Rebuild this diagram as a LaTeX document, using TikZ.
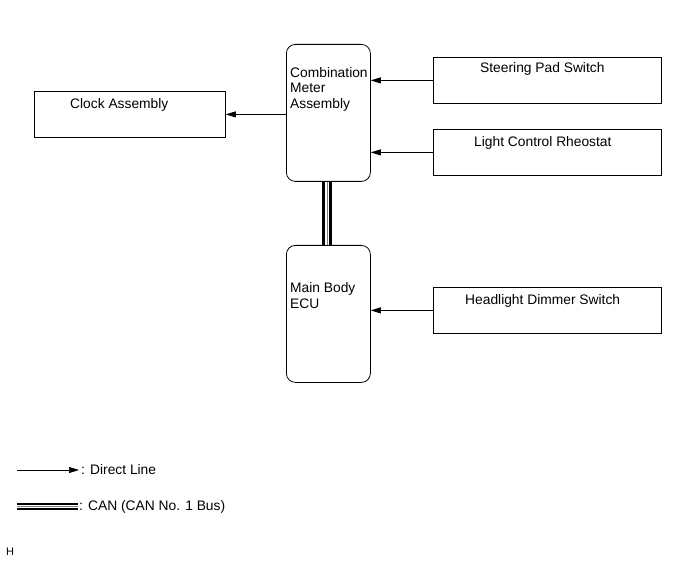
\documentclass[tikz,border=0pt]{standalone}
\usepackage{fontspec}
\setmainfont{Liberation Sans}
\usetikzlibrary{arrows.meta, positioning, calc}

\begin{document}
\begin{tikzpicture}[
    x=1pt, y=-1pt,
    ecu/.style={draw, rectangle, rounded corners=9pt, line width=0.8pt, minimum width=84pt, minimum height=137pt, anchor=north west, inner sep=0pt},
    unit/.style={draw, rectangle, line width=0.8pt, minimum width=228pt, minimum height=46pt, anchor=north west, inner sep=0pt},
    lbl/.style={anchor=base west, inner sep=0pt, font=\fontsize{13.8}{15.5}\selectfont, align=left},
    arrow/.style={-{Triangle[length=10pt, width=6pt]}, line width=0.7pt},
    canbus/.style={line width=2.6pt, double=white, double distance=#1},
    cancore/.style={draw=gray, line width=0.7pt}
]
    \useasboundingbox (0,0) rectangle (691,564);

    % Nodes
    \node[ecu] (meter) at (286,44) {};
    \node[ecu] (body) at (286,245) {};
    \node[unit, minimum width=191pt] (clock) at (34,91) {};
    \node[unit] (steer) at (433,57) {};
    \node[unit] (rheo) at (433,129) {};
    \node[unit] (dimmer) at (433,287) {};

    % labels (base = last line)
    \node[lbl] (meterlbl) at (290,108.5) {Combination\\Meter\\Assembly};
    \node[lbl] (bodylbl) at (290,308.5) {Main Body\\ECU};
    \node[lbl] (clocklbl) at (70,109) {Clock Assembly};
    \node[lbl] (steerlbl) at (480,73) {Steering Pad Switch};
    \node[lbl] (rheolbl) at (474,147) {Light Control Rheostat};
    \node[lbl] (dimmerlbl) at (465,304) {Headlight Dimmer Switch};

    % Arrows
    \draw[arrow] (steer.west) -- (steer.west -| meter.east);
    \draw[arrow] (rheo.west) -- (rheo.west -| meter.east);
    \draw[arrow] (dimmer.west) -- (dimmer.west -| body.east);
    \draw[arrow] (meter.west |- clock.east) -- (clock.east);

    % CAN bus
    \draw[canbus=4.2pt] ([xshift=-1.5pt]meter.south) -- ([xshift=-1.5pt]body.north);
    \draw[cancore] ([xshift=-1.5pt]meter.south) -- ([xshift=-1.5pt]body.north);

    % Legend
    \coordinate (dl1) at (17,470);
    \coordinate (dl2) at (79,470);
    \coordinate (cn1) at (17,506.3);
    \coordinate (cn2) at (78,506.3);
    \draw[arrow] (dl1) -- (dl2);
    \draw[canbus=2.8pt, line width=2pt] (cn1) -- (cn2);
    \draw[cancore, line width=0.6pt] (cn1) -- (cn2);
    \node[lbl] (dllbl) at (81,474.5) {: Direct Line};
    \node[lbl] (cnlbl) at (79,510.5) {: CAN (CAN No. 1 Bus)};
    \node[lbl, font=\fontsize{11}{12}\selectfont] (hlbl) at (6,555.5) {H};
\end{tikzpicture}
\end{document}
